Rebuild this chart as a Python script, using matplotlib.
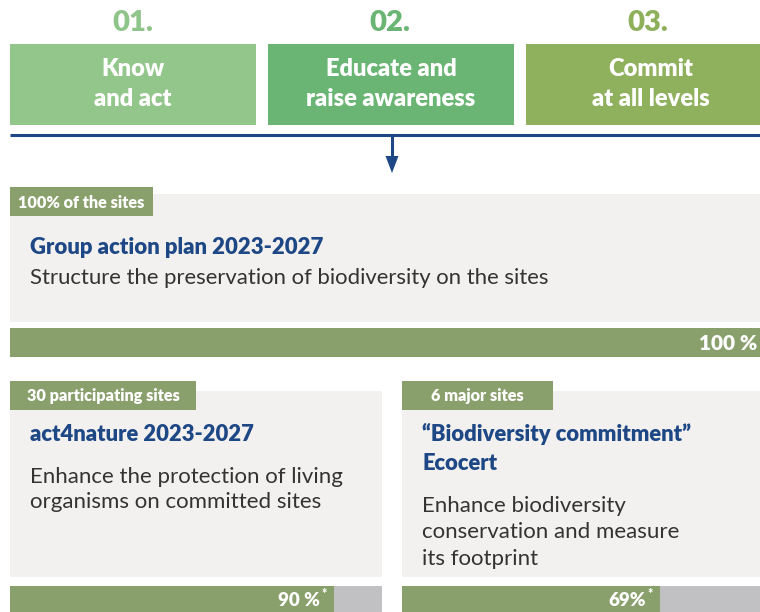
import matplotlib
matplotlib.use("Agg")
import matplotlib.pyplot as plt
from matplotlib.patches import Rectangle, Polygon

# ---------------- data ----------------
steps = ["01.", "02.", "03."]
step_lines = [["Know", "and act"], ["Educate and", "raise awareness"], ["Commit", "at all levels"]]
tags = ["100% of the sites", "30 participating sites", "6 major sites"]
titles = [["Group action plan 2023-2027"], ["act4nature 2023-2027"],
          ["\u201cBiodiversity commitment\u201d", "Ecocert"]]
descriptions = [["Structure the preservation of biodiversity on the sites"],
                ["Enhance the protection of living", "organisms on committed sites"],
                ["Enhance biodiversity", "conservation and measure", "its footprint"]]
pct_labels = ["100 %", "90 %", "69%"]
pct_notes = ["", "*", "*"]
bar_fill = [100, 87, 72]   # visible filled share of each progress bar

# ---------------- style ----------------
W, H = 760, 612
FONT = "Lato"
step_cols = ["#93c68b", "#6bb574", "#8fb05c"]
num_cols = ["#8fc58a", "#6ab573", "#8fb05b"]
tag_col = "#8aa06c"
box_col = "#f2f1ef"
rest_col = "#c1c0c2"
blue = "#1e4785"
dark = "#333333"
HEAVY = "heavy"

fig = plt.figure(figsize=(W / 100, H / 100), dpi=100)
ax = fig.add_axes([0, 0, 1, 1])
ax.set_xlim(0, W)
ax.set_ylim(H, 0)
ax.axis("off")
renderer = fig.canvas.get_renderer()


def measure(s, size, **kw):
    t = ax.text(0, 0, s, fontsize=size, family=FONT, **kw)
    w = t.get_window_extent(renderer).width
    t.remove()
    return w


def fit_size(s, target_w, **kw):
    return 12 * target_w / measure(s, 12, **kw)


def txt(x, y, s, size, **kw):
    return ax.text(x, y, s, fontsize=size, family=FONT, va="baseline", **kw)


def cap(px):
    # font size (pt) giving a cap height of px pixels at 100 dpi
    return px / 0.7165 * 0.72


# ---------------- header steps ----------------
hdr_x = [(10, 256), (268, 514), (526, 776)]
num_cx = [133, 390, 648]
txt_cx = [133, 391, 651]
for i in range(3):
    txt(num_cx[i], 31, steps[i], cap(21), color=num_cols[i], weight=HEAVY, ha="center")

for i, (x0, x1) in enumerate(hdr_x):
    ax.add_patch(Rectangle((x0, 44), x1 - x0, 81, color=step_cols[i], lw=0))
hdr_size = fit_size(step_lines[1][1], 168, weight=HEAVY)
for i in range(3):
    for j, line in enumerate(step_lines[i]):
        txt(txt_cx[i], [76, 106][j], line, hdr_size, color="white", weight=HEAVY, ha="center")

# blue rule + arrow
ax.plot([10, 760], [135, 135], color=blue, lw=2.2, solid_capstyle="butt")
ax.plot([392, 392], [135, 158], color=blue, lw=2.2, solid_capstyle="butt")
ax.add_patch(Polygon([[385.5, 156], [398.5, 156], [392, 173]], closed=True, color=blue, lw=0))

# ---------------- panels ----------------
panels = [
    dict(x0=10, x1=760, top=194, bot=322, tag=(10, 153, 187, 216), tag_base=207.5,
         bar=(328, 357)),
    dict(x0=10, x1=382, top=391, bot=577, tag=(10, 196, 381, 410), tag_base=401.5,
         bar=(586, 612)),
    dict(x0=402, x1=760, top=391, bot=577, tag=(402, 553, 381, 410), tag_base=401.5,
         bar=(586, 612)),
]
title_base = [[254], [441], [441, 470]]
desc_base = [[284], [483, 508.5], [512, 538, 565]]
text_x = [30, 30, 422]

for k, p in enumerate(panels):
    ax.add_patch(Rectangle((p["x0"], p["top"]), p["x1"] - p["x0"], p["bot"] - p["top"],
                           color=box_col, lw=0))
    tx0, tx1, ty0, ty1 = p["tag"]
    ax.add_patch(Rectangle((tx0, ty0), tx1 - tx0, ty1 - ty0, color=tag_col, lw=0))

# tags
tag_size = fit_size(tags[0], 126, weight=HEAVY)
for k, p in enumerate(panels):
    txt((p["tag"][0] + p["tag"][1]) / 2, p["tag_base"], tags[k], tag_size,
        color="white", weight=HEAVY, ha="center")

# titles
t0 = fit_size(titles[0][0], 293, weight=HEAVY)
t1 = fit_size(titles[1][0], 223, weight=HEAVY)
txt(text_x[0], title_base[0][0], titles[0][0], t0, color=blue, weight=HEAVY)
for k in (1, 2):
    for j, line in enumerate(titles[k]):
        txt(text_x[k], title_base[k][j], line, t1, color=blue, weight=HEAVY)

# descriptions
d0 = fit_size(descriptions[0][0], 518)
d1 = fit_size(descriptions[1][0], 312)
txt(text_x[0], desc_base[0][0], descriptions[0][0], d0, color=dark)
for k in (1, 2):
    for j, line in enumerate(descriptions[k]):
        txt(text_x[k], desc_base[k][j], line, d1, color=dark)

# progress bars
for k, p in enumerate(panels):
    y0, y1 = p["bar"]
    span = p["x1"] - p["x0"]
    ax.barh(y0, span, left=p["x0"], height=y1 - y0, align="edge", color=rest_col, lw=0)
    fill_w = span * bar_fill[k] / 100
    ax.barh(y0, fill_w, left=p["x0"], height=y1 - y0, align="edge", color=tag_col, lw=0)

txt(757, 350.5, pct_labels[0], cap(15), color="white", weight=HEAVY, ha="right")
for k in (1, 2):
    p = panels[k]
    span = p["x1"] - p["x0"]
    right = p["x0"] + span * bar_fill[k] / 100 - 14
    txt(right, 606.5, pct_labels[k], cap(13.5), color="white", weight=HEAVY, ha="right")
    txt(right + 1.5, 598, pct_notes[k], cap(9), color="white", weight=HEAVY, ha="left")

fig.savefig("out.png", dpi=100)
